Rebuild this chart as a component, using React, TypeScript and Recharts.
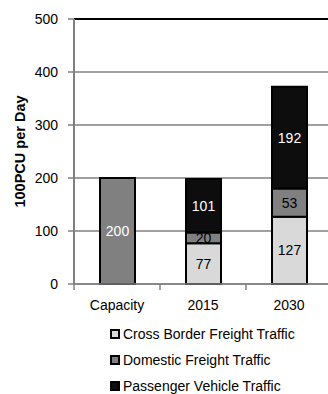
import React from 'react';
import { BarChart, Bar, XAxis, YAxis, CartesianGrid, LabelList, Legend, ReferenceLine } from 'recharts';

const categories = ['Capacity', '2015', '2030'];
const capacityValues = [200, null, null];
const crossBorderValues = [null, 77, 127];
const domesticValues = [null, 20, 53];
const passengerValues = [null, 101, 192];
const yTicks = [0, 100, 200, 300, 400, 500];

const data = categories.map((c, i) => ({
  name: c,
  capacity: capacityValues[i],
  cross: crossBorderValues[i],
  domestic: domesticValues[i],
  passenger: passengerValues[i],
}));

const FONT = '"Liberation Sans", Arial, sans-serif';
const BAND = 86;

const XTick = (props: any) => {
  const { x, y, payload, index } = props;
  return (
    <g>
      <line x1={x - BAND / 2} y1={y - 8} x2={x - BAND / 2} y2={y - 2} stroke="#808080" strokeWidth={1.5} />
      {index === categories.length - 1 && (
        <line x1={x + BAND / 2} y1={y - 8} x2={x + BAND / 2} y2={y - 2} stroke="#808080" strokeWidth={1.5} />
      )}
      <text x={x} y={y + 18} textAnchor="middle" fontSize={14} fontFamily={FONT} fill="#000">
        {payload.value}
      </text>
    </g>
  );
};

const legendItems = [
  { label: 'Cross Border Freight Traffic', color: '#d9d9d9' },
  { label: 'Domestic Freight Traffic', color: '#808080' },
  { label: 'Passenger Vehicle Traffic', color: '#0d0d0d' },
];

const LegendContent = () => (
  <div style={{ fontFamily: FONT, fontSize: 14, color: '#000' }}>
    {legendItems.map((it) => (
      <div key={it.label} style={{ display: 'flex', alignItems: 'center', height: 26 }}>
        <span style={{ display: 'inline-block', width: 6, height: 6, background: it.color, border: '2px solid #000', marginRight: 3 }} />
        <span style={{ whiteSpace: 'nowrap' }}>{it.label}</span>
      </div>
    ))}
  </div>
);

const YLabel = (props: any) => {
  const { viewBox } = props;
  const cx = 20;
  const cy = viewBox.y + viewBox.height / 2;
  return (
    <text x={cx} y={cy} transform={`rotate(-90 ${cx} ${cy})`} textAnchor="middle" dominantBaseline="central" fontSize={14.5} fontWeight="bold" fontFamily={FONT} fill="#000">
      100PCU per Day
    </text>
  );
};

export default function App() {
  return (
    <div style={{ position: 'absolute', left: 0, top: 0, width: 328, height: 394, overflow: 'hidden', background: '#fff' }}>
      <BarChart width={340} height={394} data={data} margin={{ top: 19, right: 8, bottom: 80, left: 0 }} barSize={35}>
        <CartesianGrid vertical={false} stroke="#808080" strokeWidth={1.5} />
        <XAxis dataKey="name" height={30} axisLine={{ stroke: '#808080', strokeWidth: 1.5 }} tickLine={false} tick={<XTick />} interval={0} />
        <YAxis
          width={74}
          domain={[0, 500]}
          ticks={yTicks}
          axisLine={{ stroke: '#808080', strokeWidth: 2 }}
          tickLine={{ stroke: '#808080', strokeWidth: 1.5 }}
          tickSize={6}
          tickMargin={10}
          tick={{ fontSize: 14, fontFamily: FONT, fill: '#000' }}
          label={<YLabel />}
        />
        <ReferenceLine y={500} stroke="#000" strokeWidth={2} />
        <Bar dataKey="capacity" stackId="a" fill="#808080" stroke="#000" strokeWidth={2} isAnimationActive={false} legendType="none">
          <LabelList dataKey="capacity" position="center" fill="#fff" fontSize={14} fontFamily={FONT} />
        </Bar>
        <Bar dataKey="cross" stackId="a" fill="#d9d9d9" stroke="#000" strokeWidth={2} isAnimationActive={false}>
          <LabelList dataKey="cross" position="center" fill="#000" fontSize={14} fontFamily={FONT} />
        </Bar>
        <Bar dataKey="domestic" stackId="a" fill="#808080" stroke="#000" strokeWidth={2} isAnimationActive={false}>
          <LabelList dataKey="domestic" position="center" fill="#000" fontSize={14} fontFamily={FONT} />
        </Bar>
        <Bar dataKey="passenger" stackId="a" fill="#0d0d0d" stroke="#000" strokeWidth={2} isAnimationActive={false}>
          <LabelList dataKey="passenger" position="center" fill="#fff" fontSize={14} fontFamily={FONT} />
        </Bar>
        <Legend layout="vertical" align="center" verticalAlign="middle" content={<LegendContent />} wrapperStyle={{ position: 'absolute', top: 321, left: 110, width: 'auto' }} />
      </BarChart>
    </div>
  );
}
